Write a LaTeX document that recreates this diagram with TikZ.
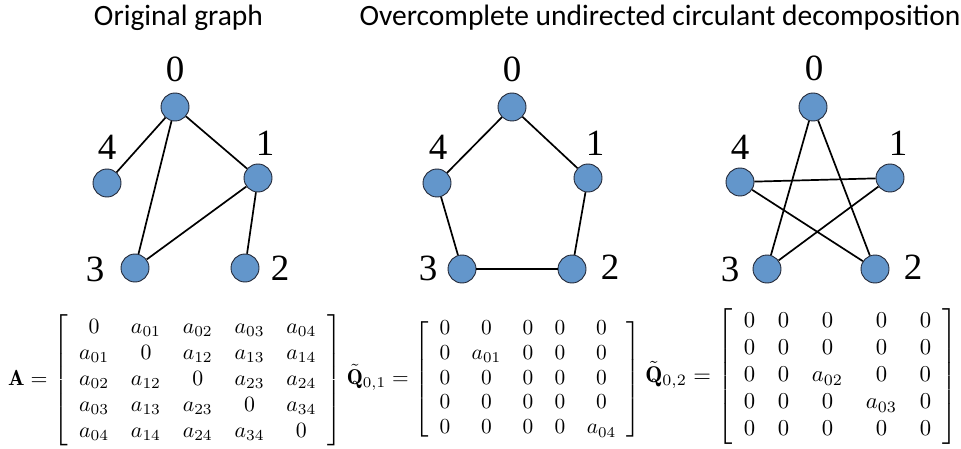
\documentclass[tikz,border=0pt]{standalone}
\usepackage{fontspec}
\newfontfamily\titlefont{Carlito}
\newfontfamily\labelfont{Liberation Serif}
\definecolor{nodeblue}{RGB}{99,150,203}
\definecolor{nodeedge}{RGB}{35,40,55}
\tikzset{
  vtx/.style={circle, fill=nodeblue, draw=nodeedge, line width=0.9pt, minimum size=28pt, inner sep=0pt},
  vlab/.style={font=\labelfont\fontsize{37}{37}\selectfont, inner sep=0pt},
  edge/.style={line width=1.7pt, black},
  ttl/.style={font=\titlefont\fontsize{29.5}{32}\selectfont, inner sep=0pt, anchor=base},
  mat/.style={inner sep=0pt},
}
\begin{document}
\begin{tikzpicture}[x=1pt,y=-1pt]
\useasboundingbox (0,0) rectangle (961,449);
% titles
\node[ttl] (t1) at (178.5,25.5) {Original graph};
\node[ttl] (t2) at (660,25.5) {Overcomplete undirected circulant decomposition};
% graph 1
\node[vtx] (a0) at (175,107) {};
\node[vtx] (a1) at (258,178) {};
\node[vtx] (a2) at (245,268) {};
\node[vtx] (a3) at (135,268) {};
\node[vtx] (a4) at (107,183) {};
\node[vlab] (al0) at (175,69) {0};
\node[vlab] (al1) at (265,143) {1};
\node[vlab] (al2) at (280,268) {2};
\node[vlab] (al3) at (95,269) {3};
\node[vlab] (al4) at (107,147) {4};
\draw[edge] (a0) -- (a4);
\draw[edge] (a0) -- (a3);
\draw[edge] (a0) -- (a1);
\draw[edge] (a1) -- (a3);
\draw[edge] (a1) -- (a2);
% graph 2
\node[vtx] (b0) at (512,107) {};
\node[vtx] (b1) at (588,178) {};
\node[vtx] (b2) at (572,269) {};
\node[vtx] (b3) at (462,269) {};
\node[vtx] (b4) at (437,183) {};
\node[vlab] (bl0) at (512,69) {0};
\node[vlab] (bl1) at (595,143) {1};
\node[vlab] (bl2) at (610,267) {2};
\node[vlab] (bl3) at (428,268) {3};
\node[vlab] (bl4) at (438,147) {4};
\draw[edge] (b0) -- (b1);
\draw[edge] (b1) -- (b2);
\draw[edge] (b2) -- (b3);
\draw[edge] (b3) -- (b4);
\draw[edge] (b4) -- (b0);
% graph 3
\node[vtx] (c0) at (813,107) {};
\node[vtx] (c1) at (890,178) {};
\node[vtx] (c2) at (875,269) {};
\node[vtx] (c3) at (767,269) {};
\node[vtx] (c4) at (740,182) {};
\node[vlab] (cl0) at (814,68) {0};
\node[vlab] (cl1) at (898,143) {1};
\node[vlab] (cl2) at (913,267) {2};
\node[vlab] (cl3) at (730,269) {3};
\node[vlab] (cl4) at (740,147) {4};
\draw[edge] (c0) -- (c2);
\draw[edge] (c0) -- (c3);
\draw[edge] (c4) -- (c1);
\draw[edge] (c4) -- (c2);
\draw[edge] (c1) -- (c3);
% matrices
\node[mat] (mA) at (175,380) {\scalebox{2.18}{\fontsize{10}{11.93}\selectfont$\mathbf{A}=\left[\begin{array}{ccccc}
0 & a_{01} & a_{02} & a_{03} & a_{04}\\
a_{01} & 0 & a_{12} & a_{13} & a_{14}\\
a_{02} & a_{12} & 0 & a_{23} & a_{24}\\
a_{03} & a_{13} & a_{23} & 0 & a_{34}\\
a_{04} & a_{14} & a_{24} & a_{34} & 0
\end{array}\right]$}};
\node[mat] (mQ1) at (494,379) {\scalebox{2.14}{\fontsize{10}{11.68}\selectfont$\tilde{\mathbf{Q}}_{0,1}=\left[\begin{array}{ccccc}
0 & 0 & 0 & 0 & 0\\
0 & a_{01} & 0 & 0 & 0\\
0 & 0 & 0 & 0 & 0\\
0 & 0 & 0 & 0 & 0\\
0 & 0 & 0 & 0 & a_{04}
\end{array}\right]$}};
\node[mat] (mQ2) at (801.5,376.5) {\scalebox{2.27}{\fontsize{10}{11.9}\selectfont$\tilde{\mathbf{Q}}_{0,2}=\left[\begin{array}{ccccc}
0 & 0 & 0 & 0 & 0\\
0 & 0 & 0 & 0 & 0\\
0 & 0 & a_{02} & 0 & 0\\
0 & 0 & 0 & a_{03} & 0\\
0 & 0 & 0 & 0 & 0
\end{array}\right]$}};
\end{tikzpicture}
\end{document}
